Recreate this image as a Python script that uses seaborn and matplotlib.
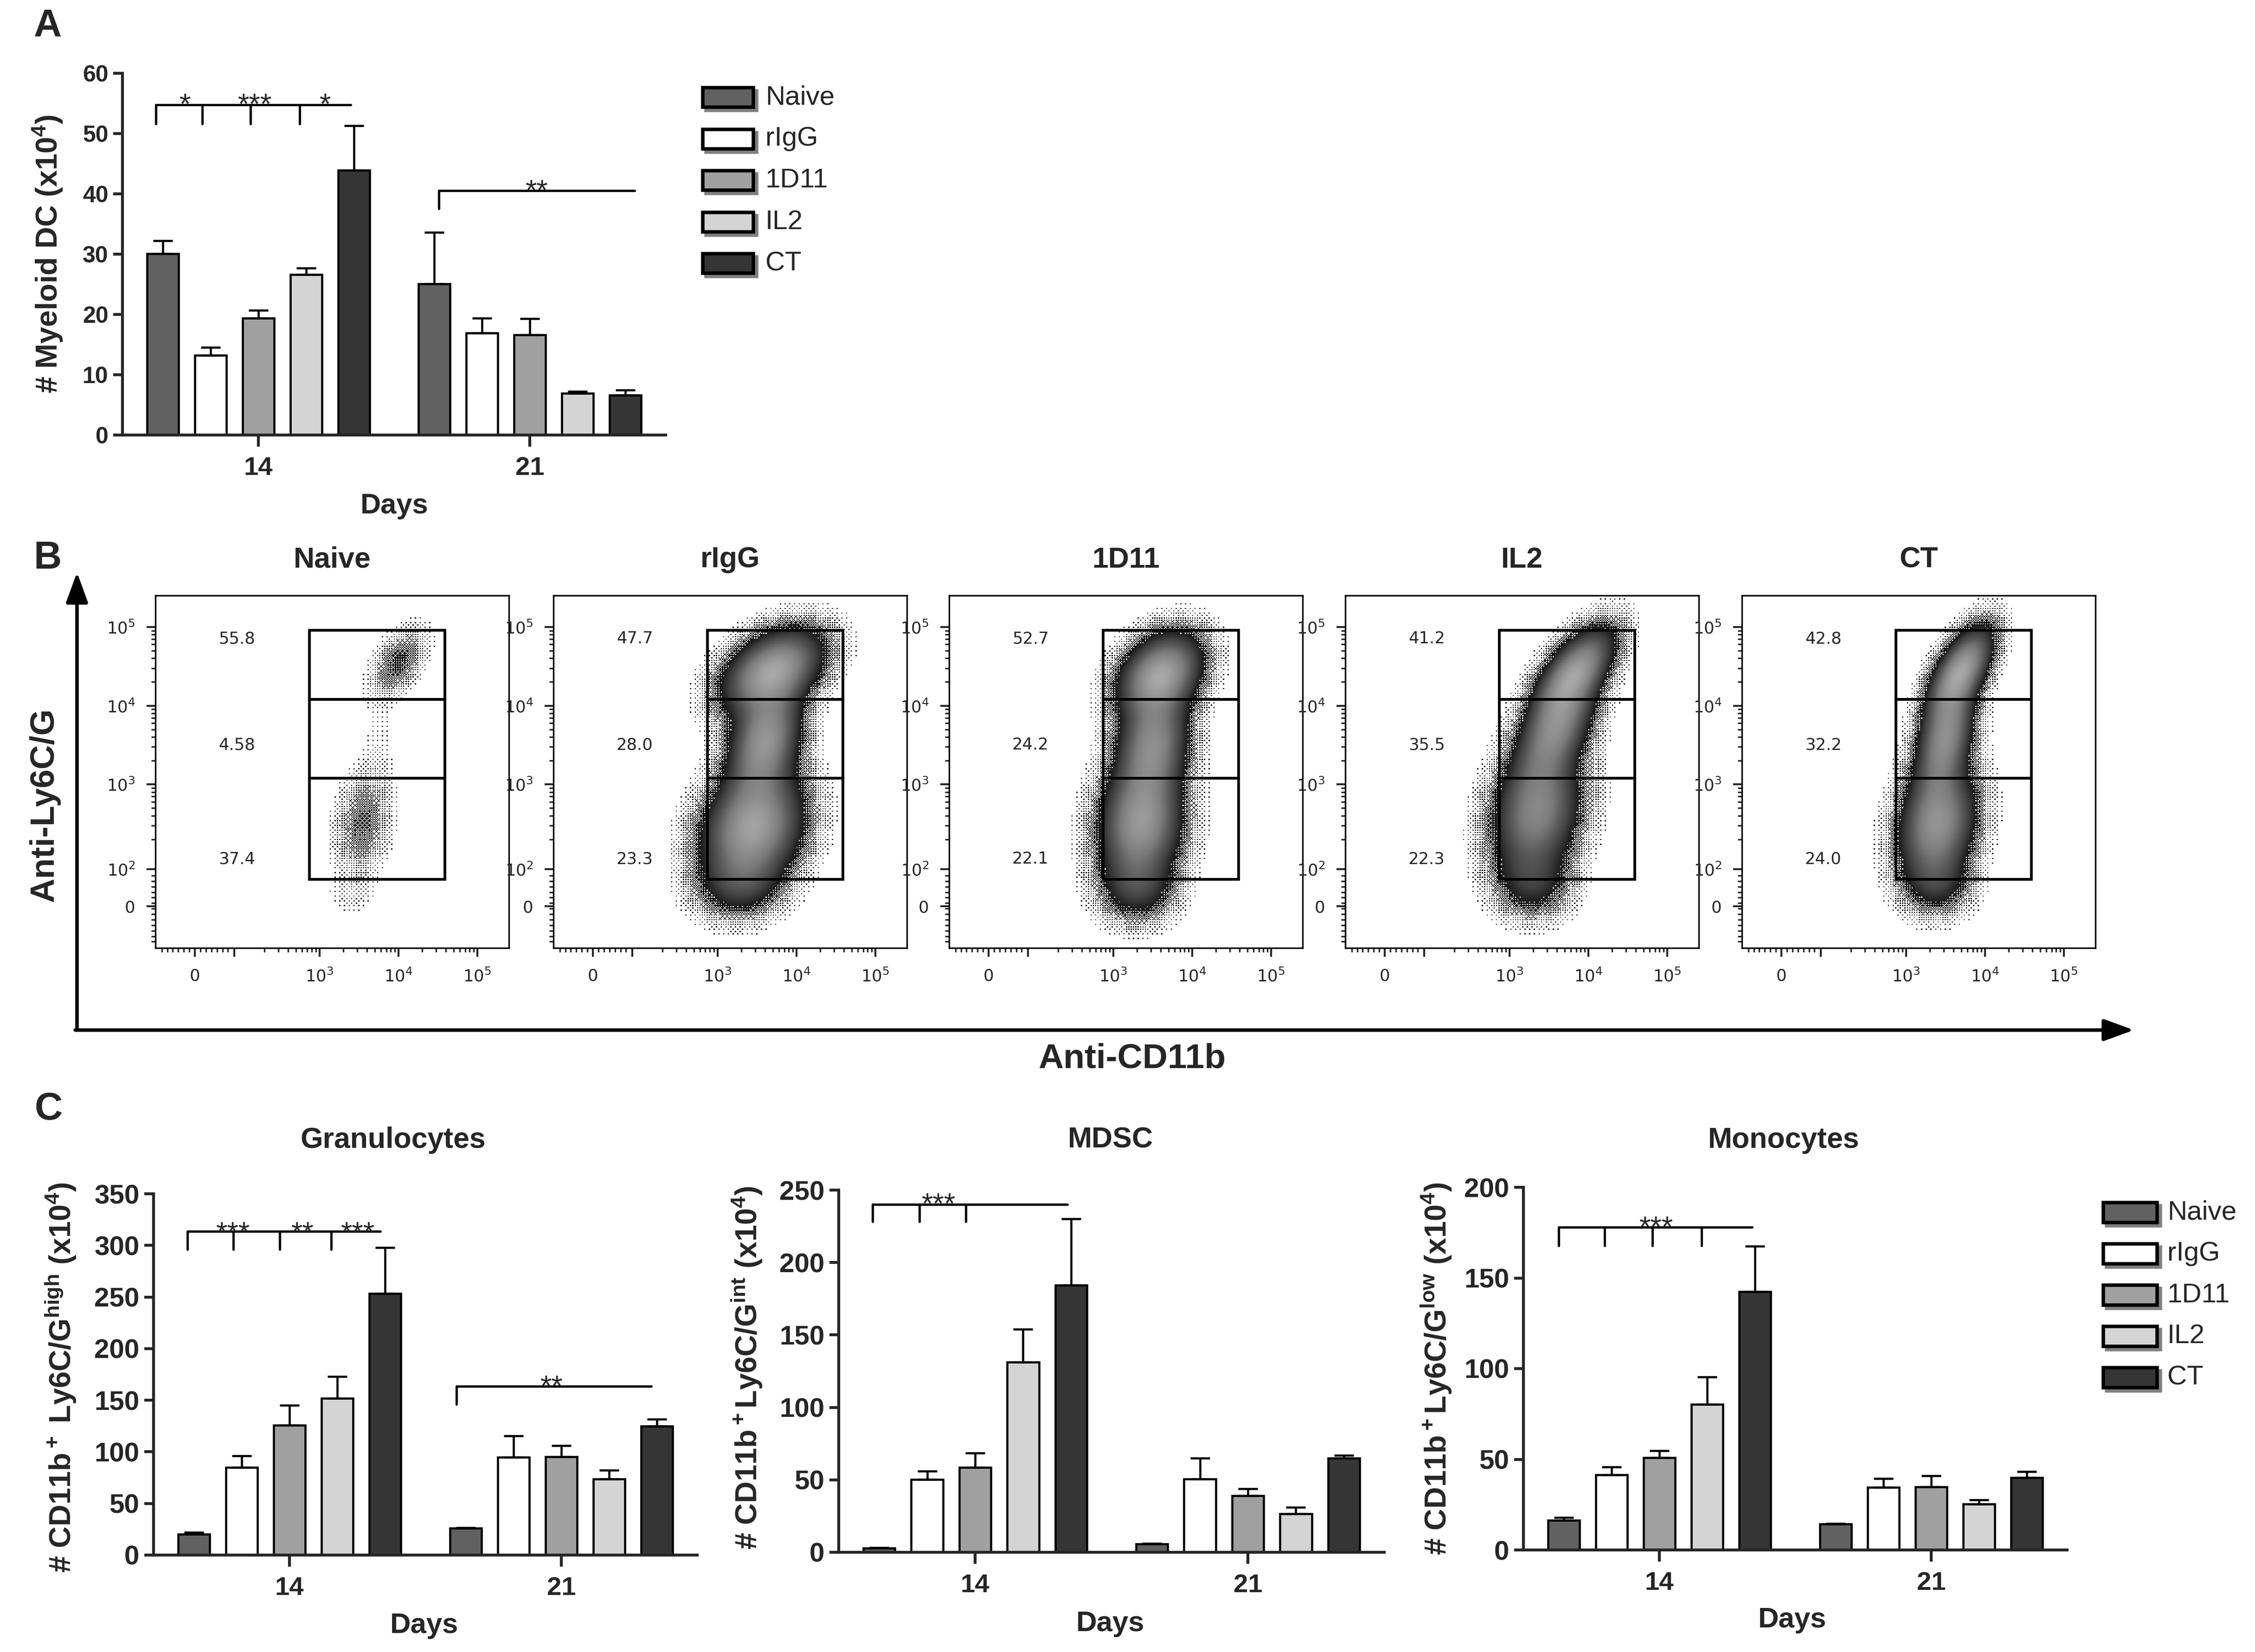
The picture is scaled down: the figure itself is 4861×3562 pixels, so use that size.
import numpy as np
import pandas as pd
import seaborn as sns
import matplotlib.pyplot as plt
from matplotlib.patches import Rectangle
from matplotlib.colors import LinearSegmentedColormap

# ---------------- data ----------------
groups = ['Naive', 'rIgG', '1D11', 'IL2', 'CT']
days = ['14', '21']
colors = ['#616161', '#ffffff', '#a0a0a0', '#d4d4d4', '#353535']

# panel A: myeloid DC (x10^4), mean and SEM
dc_mean_14 = [30.1, 13.2, 19.4, 26.6, 43.9]
dc_sem_14 = [2.1, 1.3, 1.3, 1.1, 7.4]
dc_mean_21 = [25.1, 16.9, 16.6, 6.9, 6.6]
dc_sem_21 = [8.5, 2.5, 2.7, 0.3, 0.9]

# panel C
gran_mean_14 = [20.1, 85.0, 126.0, 152.0, 253.5]
gran_sem_14 = [1.8, 11.2, 19.0, 21.0, 44.5]
gran_mean_21 = [26.0, 94.8, 95.1, 73.6, 124.7]
gran_sem_21 = [0.7, 20.8, 10.9, 8.4, 6.9]

mdsc_mean_14 = [3.0, 50.2, 58.7, 131.2, 184.4]
mdsc_sem_14 = [0.3, 5.8, 9.9, 22.8, 45.6]
mdsc_mean_21 = [5.7, 50.7, 38.9, 26.5, 64.9]
mdsc_sem_21 = [0.5, 14.4, 5.1, 4.5, 2.1]

mono_mean_14 = [16.4, 41.5, 51.0, 80.3, 142.4]
mono_sem_14 = [1.4, 4.4, 3.8, 15.2, 25.0]
mono_mean_21 = [14.2, 34.6, 34.8, 25.3, 39.8]
mono_sem_21 = [0.4, 4.8, 6.2, 2.4, 3.3]

# significance brackets: (day, tick bar positions, end bar position, line y, tick bottom, stars, star y)
dc_brackets = [(0, [-0.14, 0.83, 1.84, 2.87], 3.93, 54.8, 51.6, [('*', 0.47), ('***', 1.93), ('*', 3.40)], 56.1),
               (1, [0.10], 4.19, 40.5, 37.5, [('**', 2.15)], 41.8)]
gran_brackets = [(0, [-0.13, 0.83, 1.80, 2.87], 3.90, 313.5, 296.0, [('***', 0.82), ('**', 2.27), ('***', 3.43)], 319.5),
                 (1, [-0.19], 3.88, 163.5, 145.8, [('**', 1.80)], 171.0)]
mdsc_brackets = [(0, [-0.14, 0.84, 1.81], 3.92, 240.1, 228.2, [('***', 1.24)], 245.5)]
mono_brackets = [(0, [-0.10, 0.86, 1.85, 2.88], 3.94, 178.0, 167.8, [('***', 1.94)], 182.2)]

# panel B: gate percentages (high / int / low)
flow_pcts = {
    'Naive': ['55.8', '4.58', '37.4'],
    'rIgG': ['47.7', '28.0', '23.3'],
    '1D11': ['52.7', '24.2', '22.1'],
    'IL2': ['41.2', '35.5', '22.3'],
    'CT': ['42.8', '32.2', '24.0'],
}
# cell populations, in decade units
# (x centre, y centre, x spread, y spread, tilt, weight)
flow_pops = {
    'Naive': [(4.00, 4.55, 0.20, 0.25, 0.5, 1.0), (3.55, 2.50, 0.20, 0.38, 0.2, 0.85),
              (3.75, 3.50, 0.14, 0.45, 0.2, 0.10), (3.40, 1.60, 0.18, 0.16, 0.0, 0.15)],
    'rIgG': [(3.70, 4.45, 0.36, 0.30, 0.4, 1.0), (3.60, 3.55, 0.26, 0.42, 0.3, 0.9),
             (3.45, 2.45, 0.36, 0.40, 0.2, 1.0), (3.30, 1.75, 0.32, 0.26, 0.1, 0.3)],
    '1D11': [(3.60, 4.40, 0.30, 0.30, 0.3, 1.0), (3.50, 3.50, 0.26, 0.42, 0.2, 0.8),
             (3.35, 2.50, 0.30, 0.42, 0.1, 0.9), (3.30, 1.70, 0.28, 0.26, 0.0, 0.3)],
    'IL2': [(3.85, 4.45, 0.28, 0.32, 0.6, 1.0), (3.60, 3.75, 0.28, 0.42, 0.5, 0.95),
            (3.35, 2.65, 0.32, 0.46, 0.2, 0.9), (3.30, 1.75, 0.28, 0.26, 0.0, 0.3)],
    'CT': [(3.70, 4.45, 0.23, 0.32, 0.6, 1.0), (3.50, 3.60, 0.21, 0.42, 0.4, 0.85),
           (3.40, 2.50, 0.28, 0.42, 0.2, 0.9), (3.40, 1.75, 0.25, 0.24, 0.0, 0.25)],
}
# how densely each plot is populated (the naive sample has few events)
flow_event_level = {'Naive': 0.15, 'rIgG': 1.0, '1D11': 1.0, 'IL2': 1.0, 'CT': 1.0}
gate_x = [2.87, 4.59]
gate_y = [1.79, 3.08, 4.08, 4.96]

# ---------------- style ----------------
sns.set_theme(style='ticks')
plt.rcParams['font.family'] = ['Liberation Sans', 'DejaVu Sans']
plt.rcParams['mathtext.default'] = 'regular'
narrow = ['Liberation Sans Narrow', 'DejaVu Sans']

W, H = 4861, 3562
fig = plt.figure(figsize=(W / 300, H / 300), dpi=300)


def rect(l, t, r, b):
    return [l / W, 1 - b / H, (r - l) / W, (b - t) / H]


# overlay in pixel coordinates for labels, arrows and legends
ov = fig.add_axes([0, 0, 1, 1])
ov.set_xlim(0, W)
ov.set_ylim(H, 0)
ov.axis('off')

SLOT = 0.88 / 5


def bar_panel(box, m14, s14, m21, s21, ymax, ystep, ytick_fs, brackets):
    ax = fig.add_axes(rect(*box))
    df = pd.DataFrame({'day': np.repeat(days, 5), 'group': groups * 2, 'value': m14 + m21})
    sns.barplot(data=df, x='day', y='value', hue='group', hue_order=groups, palette=colors,
                saturation=1, width=0.88, gap=0.34, edgecolor='black', linewidth=1.1,
                errorbar=None, legend=False, ax=ax)
    for d, (m, s) in enumerate([(m14, s14), (m21, s21)]):
        xs = d + (np.arange(5) - 2) * SLOT
        ax.errorbar(xs, m, yerr=[np.zeros(5), s], fmt='none', ecolor='black',
                    elinewidth=1.1, capsize=5, capthick=1.1)
    for day, ticks, end, y, ybot, stars, sy in brackets:
        xp = lambda i: day + (i - 2) * SLOT
        ax.plot([xp(ticks[0]), xp(end)], [y, y], color='black', lw=1.2, clip_on=False)
        for t in ticks:
            ax.plot([xp(t), xp(t)], [y, ybot], color='black', lw=1.2, clip_on=False)
        for txt, pos in stars:
            ax.annotate(txt, (xp(pos), sy), xytext=(0, -0.575 * 15), textcoords='offset points',
                        ha='center', va='baseline', fontsize=15, annotation_clip=False)
    ax.set_xlim(-0.5, 1.5)
    ax.set_ylim(0, ymax)
    ax.set_yticks(np.arange(0, ymax + 1, ystep))
    sns.despine(ax=ax)
    for sp in ['left', 'bottom']:
        ax.spines[sp].set_linewidth(1.5)
    ax.tick_params(axis='y', length=4.8, width=1.5, labelsize=ytick_fs, pad=2.5)
    ax.tick_params(axis='x', length=6, width=1.5, labelsize=13.5, pad=5)
    for t in ax.get_xticklabels() + ax.get_yticklabels():
        t.set_fontweight('bold')
    ax.set_xlabel('')
    ax.set_ylabel('')
    ax.set_facecolor('none')
    return ax


def legend(x0, y0, w, h, dy, tx):
    for i, (g, c) in enumerate(zip(groups, colors)):
        y = y0 + i * dy
        ov.add_patch(Rectangle((x0 + 7, y + 7), w, h, fc='#808080', ec='#808080', lw=1.8))
        ov.add_patch(Rectangle((x0, y), w, h, fc=c, ec='black', lw=1.8))
        ov.text(tx, y + h / 2, g, ha='left', va='center', fontsize=14)


# ---------------- panel A ----------------
bar_panel((264, 158, 1435, 938), dc_mean_14, dc_sem_14, dc_mean_21, dc_sem_21, 60, 10, 12, dc_brackets)
legend(1515, 189, 109, 42, 89.5, 1650)
ov.text(103, 56, 'A', ha='center', va='center', fontsize=20, fontweight='bold')
ov.text(103, 548, '# Myeloid DC (x10$^4$)', rotation=90, ha='center', va='center',
        fontsize=15.5, fontweight='bold')
ov.text(850, 1092, 'Days', ha='center', va='center', fontsize=14.7, fontweight='bold')

# ---------------- panel B ----------------
flow_cmap = LinearSegmentedColormap.from_list(
    'flow', [(0, '#000000'), (0.12, '#0c0c0c'), (0.3, '#404040'), (0.6, '#7a7a7a'), (1, '#a8a8a8')])
grid = np.linspace(0.92, 5.4, 300)
GX, GY = np.meshgrid(grid, grid)
# ordered-dither screen so sparse regions show as separate dots
bayer = np.array([[0, 8, 2, 10], [12, 4, 14, 6], [3, 11, 1, 9], [15, 7, 13, 5]]) / 16 + 1 / 32
screen = np.tile(bayer, (75, 75))
flow_left = [335, 1193, 2046, 2900, 3755]
minor_ticks = [d + np.log10(k) for d in (2, 3, 4) for k in range(2, 10)] + list(np.arange(1.0, 1.9, 0.07))

for left, name in zip(flow_left, groups):
    ax = fig.add_axes(rect(left, 1284, left + 762, 2044))
    dens = np.zeros_like(GX)
    for cx, cy, sx, sy, rho, w in flow_pops[name]:
        dx = (GX - cx) / sx
        dy = (GY - cy) / sy
        dens += w * np.exp(-(dx * dx - 2 * rho * dx * dy + dy * dy) / (2 * (1 - rho * rho)))
    dens = dens / dens.max() * flow_event_level[name]
    fill = np.clip(dens / 0.2, 0, 1)
    shown = np.ma.masked_where((fill <= screen) | (dens < 0.01), dens)
    ax.pcolormesh(grid, grid, shown, cmap=flow_cmap, vmin=0, vmax=1,
                  shading='auto', rasterized=True)
    for lo, hi in zip(gate_y[:-1], gate_y[1:]):
        ax.add_patch(Rectangle((gate_x[0], lo), gate_x[1] - gate_x[0], hi - lo,
                               fill=False, ec='black', lw=1.4))
    for s, yy in zip(flow_pcts[name], [4.85, 3.5, 2.05]):
        ax.text(1.95, yy, s, ha='center', va='center', fontsize=8.5, family=narrow)
    ax.set_xlim(0.92, 5.4)
    ax.set_ylim(0.92, 5.4)
    ax.set_xticks([1.42, 1.92, 3, 4, 5])
    ax.set_xticklabels(['0', '', '10$^3$', '10$^4$', '10$^5$'], family=narrow)
    ax.set_yticks([1.45, 1.92, 3, 4, 5])
    ax.set_yticklabels(['0', '10$^2$', '10$^3$', '10$^4$', '10$^5$'], family=narrow)
    ax.set_xticks(minor_ticks, minor=True)
    ax.set_yticks(minor_ticks, minor=True)
    ax.tick_params(which='major', length=4.5, width=1.0, labelsize=8.5, pad=6)
    ax.tick_params(which='minor', length=2.2, width=0.8)
    for sp in ax.spines.values():
        sp.set_linewidth(0.8)
        sp.set_color('black')
    ax.set_facecolor('white')
    ov.text(left + 381, 1207, name, ha='center', va='center', fontsize=15, fontweight='bold')

ov.annotate('', xy=(166, 1234), xytext=(166, 2221),
            arrowprops=dict(arrowstyle='-|>,head_length=1.1,head_width=0.4', lw=1.8,
                            color='black', shrinkA=0, shrinkB=0))
ov.annotate('', xy=(4600, 2221), xytext=(162, 2221),
            arrowprops=dict(arrowstyle='-|>,head_length=1.1,head_width=0.4', lw=1.8,
                            color='black', shrinkA=0, shrinkB=0))
ov.text(102, 1204, 'B', ha='center', va='center', fontsize=20, fontweight='bold')
ov.text(96, 1736, 'Anti-Ly6C/G', rotation=90, ha='center', va='center', fontsize=17.5, fontweight='bold')
ov.text(2440, 2283, 'Anti-CD11b', ha='center', va='center', fontsize=18, fontweight='bold')

# ---------------- panel C ----------------
bar_panel((331, 2574, 1503, 3353), gran_mean_14, gran_sem_14, gran_mean_21, gran_sem_21, 350, 50, 14, gran_brackets)
bar_panel((1808, 2566, 2984, 3347), mdsc_mean_14, mdsc_sem_14, mdsc_mean_21, mdsc_sem_21, 250, 50, 14, mdsc_brackets)
bar_panel((3284, 2560, 4456, 3342), mono_mean_14, mono_sem_14, mono_mean_21, mono_sem_21, 200, 50, 14, mono_brackets)
legend(4534, 2593, 116, 43, 89, 4672)

ov.text(105, 2392, 'C', ha='center', va='center', fontsize=20, fontweight='bold')
for x, t in [(847, 'Granulocytes'), (2394, 'MDSC'), (3845, 'Monocytes')]:
    ov.text(x, 2458, t, ha='center', va='center', fontsize=15, fontweight='bold')
for x, y in [(915, 3506), (2394, 3502), (3864, 3494)]:
    ov.text(x, y, 'Days', ha='center', va='center', fontsize=14.8, fontweight='bold')
for x, y, t in [(131, 2970, '# CD11b$^+$ Ly6C/G$^{high}$ (x10$^4$)'),
                (1610, 2949, '# CD11b$^+$Ly6C/G$^{int}$ (x10$^4$)'),
                (3096, 2951, '# CD11b$^+$Ly6C/G$^{low}$ (x10$^4$)')]:
    ov.text(x, y, t, rotation=90, ha='center', va='center', fontsize=15.5, fontweight='bold')

fig.savefig('out.png', dpi=300)
